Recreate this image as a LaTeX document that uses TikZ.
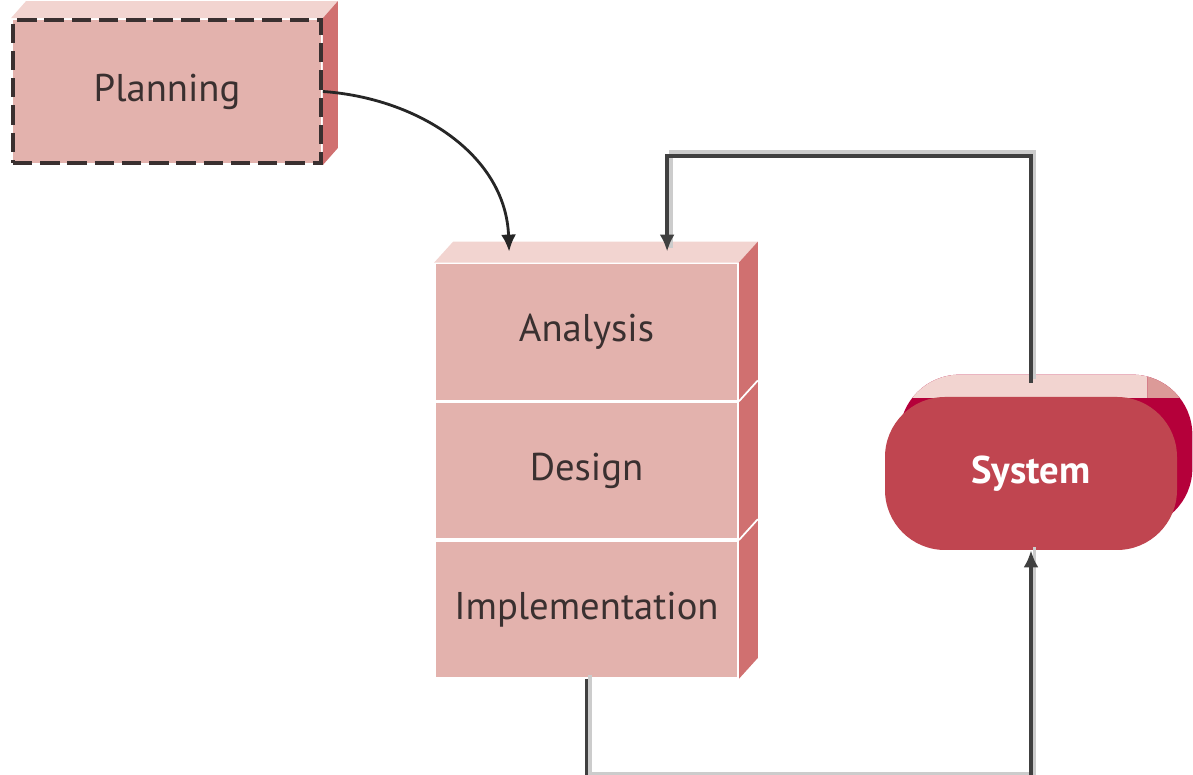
\documentclass[tikz,border=0pt]{standalone}
\usepackage{fontspec}
\setmainfont{PT Sans}
\usepackage{xcolor}
\usepackage{tikz}
\usetikzlibrary{positioning,arrows.meta,backgrounds}

\definecolor{frontpink}{HTML}{E3B2AD}
\definecolor{toppink}{HTML}{F2D4D0}
\definecolor{sidepink}{HTML}{D07070}
\definecolor{cornerpink}{HTML}{DC9A98}
\definecolor{sysred}{HTML}{C04550}
\definecolor{sysside}{HTML}{B5003A}
\definecolor{textdark}{HTML}{3A3030}

\tikzset{
	boxtext/.style={font=\fontsize{22}{26}\selectfont,text=textdark},
	stage/.style={shape=rectangle,fill=frontpink,draw=white,line width=1pt,minimum width=6.06cm,minimum height=2.74cm,inner sep=0pt,boxtext},
	planbox/.style={shape=rectangle,fill=frontpink,draw=textdark,line width=2.2pt,dash pattern=on 11pt off 4.5pt,minimum width=6.16cm,minimum height=2.86cm,boxtext},
	sysbox/.style={shape=rectangle,rounded corners=1.2cm,fill=sysred,minimum width=5.84cm,minimum height=3.06cm,text=white,font=\fontsize{22}{26}\selectfont\bfseries},
	tip/.style={-{Latex[length=0.34cm,width=0.3cm]}},
	flow/.style={draw=black!85,line width=1.6pt,tip},
	fb/.style={draw=black!75,line width=2.2pt,preaction={draw=black!20,arrows=-,line width=2.2pt,transform canvas={shift={(0.07cm,0.07cm)}}}}
}

\begin{document}
\begin{tikzpicture}
	\useasboundingbox (0,0) rectangle (23.86,15.5);
	\node at(3.34,13.67)[planbox] (plan) {Planning};
	\node at(11.73,8.86)[stage] (ana) {Analysis};
	\node[stage,below=0pt of ana] (des) {Design};
	\node[stage,below=0pt of des] (imp) {Implementation};
	\node at(20.62,6.03)[sysbox] (sys) {System};
	\begin{pgfonlayer}{background}
		% depth faces
		\fill[toppink] (plan.north west) -- ++(0.3,0.34) -- ([shift={(0.3,0.34)}]plan.north east) -- (plan.north east) -- cycle;
		\fill[sidepink] (plan.north east) -- ++(0.3,0.34) -- ([shift={(0.3,0.34)}]plan.south east) -- (plan.south east) -- cycle;
		\fill[toppink] (ana.north west) -- ++(0.38,0.42) -- ([shift={(0.38,0.42)}]ana.north east) -- (ana.north east) -- cycle;
		\fill[sidepink] (ana.north east) -- ++(0.38,0.42) -- ([shift={(0.38,0.42)}]imp.south east) -- (imp.south east) -- cycle;
		\foreach \s in {des,imp}{
			\draw[white,line width=1pt] (\s.north east) -- ++(0.38,0.42);
		}
		\fill[sysside,rounded corners=1.2cm] ([shift={(0.3,0.44)}]sys.south west) rectangle ([shift={(0.3,0.44)}]sys.north east);
		\begin{scope}
			\clip ([yshift=-0.02cm]sys.north west) rectangle ([shift={(-0.6,1)}]sys.north east);
			\fill[toppink,rounded corners=1.2cm] ([shift={(0.3,0.44)}]sys.south west) rectangle ([shift={(0.3,0.44)}]sys.north east);
		\end{scope}
		\begin{scope}
			\clip ([shift={(-0.6,-0.02)}]sys.north east) rectangle ([shift={(1,1)}]sys.north east);
			\fill[cornerpink,rounded corners=1.2cm] ([shift={(0.3,0.44)}]sys.south west) rectangle ([shift={(0.3,0.44)}]sys.north east);
		\end{scope}
	\end{pgfonlayer}
	\coordinate (inA) at ([xshift=1.5cm,yshift=0.22cm]ana.north west);
	\coordinate (inB) at ([xshift=4.66cm,yshift=0.22cm]ana.north west);
	\coordinate (outS) at ([yshift=0.28cm]sys.north);
	\draw[flow] (plan.east) to[out=-4,in=92] (inA);
	\draw[fb,tip] (outS) |- ([yshift=1.92cm]inB) -- (inB);
	\draw[fb,tip] (imp.south) -- ++(0,-1.97) -| (sys.south);
\end{tikzpicture}
\end{document}
